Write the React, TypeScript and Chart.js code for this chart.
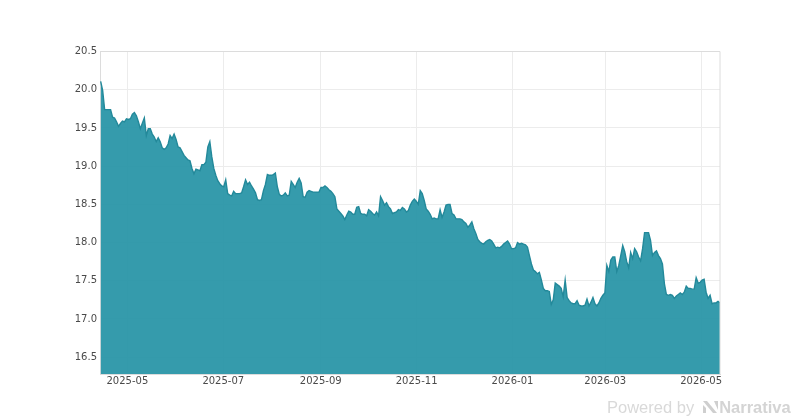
import { useEffect, useRef } from "react"
import { Chart, registerables } from "chart.js"

Chart.register(...registerables)

const firstDay = Date.UTC(2025, 3, 14)
const lastDay = Date.UTC(2026, 4, 13)

// prices, evenly spaced between firstDay and lastDay
const prices = [
  20.11, 19.99, 19.74, 19.74, 19.74, 19.74, 19.64, 19.63, 19.58, 19.52, 19.56, 19.59, 19.58, 19.62, 19.61, 19.62,
  19.68, 19.7, 19.66, 19.58, 19.49, 19.56, 19.63, 19.4, 19.49, 19.49, 19.42, 19.38, 19.32, 19.37, 19.32, 19.24,
  19.22, 19.24, 19.29, 19.4, 19.36, 19.42, 19.35, 19.25, 19.24, 19.19, 19.14, 19.11, 19.08, 19.07, 18.97, 18.9,
  18.96, 18.95, 18.94, 19.02, 19.02, 19.05, 19.25, 19.32, 19.12, 18.97, 18.88, 18.81, 18.77, 18.74, 18.73, 18.82,
  18.64, 18.62, 18.61, 18.67, 18.64, 18.64, 18.64, 18.65, 18.73, 18.82, 18.76, 18.79, 18.74, 18.7, 18.65, 18.56,
  18.55, 18.56, 18.68, 18.76, 18.89, 18.88, 18.88, 18.89, 18.91, 18.73, 18.63, 18.61, 18.62, 18.65, 18.61, 18.62,
  18.8, 18.76, 18.72, 18.79, 18.84, 18.78, 18.6, 18.59, 18.66, 18.68,
  18.67, 18.66, 18.66, 18.66, 18.66, 18.72, 18.72, 18.74, 18.72, 18.69, 18.67, 18.64, 18.6, 18.44, 18.41, 18.38,
  18.35, 18.3, 18.36, 18.41, 18.4, 18.37, 18.37, 18.46, 18.47, 18.38, 18.37, 18.37, 18.35, 18.43, 18.41, 18.38,
  18.36, 18.4, 18.35, 18.6, 18.55, 18.49, 18.52, 18.47, 18.44, 18.38, 18.39, 18.4, 18.43, 18.42, 18.46, 18.44,
  18.4, 18.42, 18.49, 18.54, 18.57, 18.54, 18.5, 18.68, 18.64, 18.55, 18.44, 18.41, 18.37, 18.31, 18.32, 18.31,
  18.31, 18.43, 18.33, 18.4, 18.49, 18.5, 18.5, 18.38, 18.36, 18.31, 18.31, 18.31, 18.3, 18.27, 18.25, 18.2,
  18.23, 18.27, 18.18, 18.12, 18.04, 18.01, 17.99, 17.98, 18.01, 18.03, 18.04, 18.02, 17.98, 17.93, 17.94, 17.93,
  17.95, 17.98, 18.0, 18.02, 17.98, 17.92, 17.92, 17.93, 18.0,
  17.98, 17.99, 17.98, 17.97, 17.94, 17.83, 17.72, 17.64, 17.62, 17.59, 17.61, 17.51, 17.4, 17.37, 17.37, 17.36,
  17.19, 17.25, 17.47, 17.45, 17.43, 17.4, 17.29, 17.51, 17.28, 17.24, 17.21, 17.2, 17.2, 17.24, 17.18, 17.17,
  17.17, 17.18, 17.26, 17.17, 17.22, 17.28, 17.2, 17.17, 17.21, 17.27, 17.31, 17.34, 17.7, 17.62, 17.77, 17.81,
  17.81, 17.62, 17.7, 17.83, 17.96, 17.88, 17.75, 17.67, 17.87, 17.79, 17.92, 17.88, 17.81, 17.76, 17.92, 18.13,
  18.13, 18.13, 18.03, 17.83, 17.87, 17.89, 17.83, 17.79, 17.72, 17.46, 17.32, 17.31, 17.32, 17.31, 17.27, 17.3,
  17.32, 17.34, 17.32, 17.35, 17.43, 17.4, 17.4, 17.39, 17.39, 17.54, 17.47, 17.48, 17.51, 17.52, 17.35, 17.27,
  17.31, 17.2, 17.21, 17.21, 17.23, 17.21,
]

const monthTicks = [
  Date.UTC(2025, 4, 1),
  Date.UTC(2025, 6, 1),
  Date.UTC(2025, 8, 1),
  Date.UTC(2025, 10, 1),
  Date.UTC(2026, 0, 1),
  Date.UTC(2026, 2, 1),
  Date.UTC(2026, 4, 1),
]

const yMin = 16.28
const yMax = 20.5

function monthLabel(ms: number) {
  const d = new Date(ms)
  return d.getUTCFullYear() + "-" + String(d.getUTCMonth() + 1).padStart(2, "0")
}

export default function App() {
  const chartRef = useRef<HTMLCanvasElement>(null)

  useEffect(() => {
    if (!chartRef.current) return
    document.body.style.margin = "0"

    const step = (lastDay - firstDay) / (prices.length - 1)
    const chart = new Chart(chartRef.current, {
      type: "line",
      data: {
        datasets: [
          {
            data: prices.map((y, i) => ({ x: firstDay + i * step, y })),
            borderColor: "#23899a",
            borderWidth: 1.4,
            backgroundColor: "rgba(36,146,165,0.92)",
            fill: "start",
            pointRadius: 0,
            tension: 0,
          },
        ],
      },
      options: {
        animation: false,
        responsive: false,
        layout: { padding: { top: 51.5, right: 80, left: 0, bottom: 0 } },
        plugins: { legend: { display: false }, tooltip: { enabled: false } },
        scales: {
          x: {
            type: "linear",
            min: Date.UTC(2025, 3, 13, 14),
            max: lastDay,
            afterBuildTicks: (axis) => {
              axis.ticks = monthTicks.map((value) => ({ value }))
            },
            afterFit: (axis) => {
              axis.height = 46
            },
            grid: { color: "#ececec", drawTicks: false },
            border: { color: "#dcdcdc", width: 1 },
            ticks: {
              autoSkip: false,
              maxRotation: 0,
              padding: 1,
              color: "#4a4a4a",
              font: { family: "DejaVu Sans", size: 10 },
              callback: (v) => monthLabel(Number(v)),
            },
          },
          y: {
            min: yMin,
            max: yMax,
            afterFit: (axis) => {
              axis.width = 100
            },
            grid: { color: "#ececec", drawTicks: false },
            border: { color: "#dcdcdc", width: 1 },
            ticks: {
              stepSize: 0.5,
              includeBounds: false,
              padding: 3,
              color: "#4a4a4a",
              font: { family: "DejaVu Sans", size: 10 },
              callback: (v) => Number(v).toFixed(1),
            },
          },
        },
      },
      plugins: [
        {
          id: "frame",
          afterDraw: (c) => {
            const { left, right, top, bottom } = c.chartArea
            const ctx = c.ctx
            ctx.save()
            ctx.strokeStyle = "#dcdcdc"
            ctx.lineWidth = 1
            ctx.beginPath()
            ctx.moveTo(left, top)
            ctx.lineTo(right, top)
            ctx.lineTo(right, bottom)
            ctx.stroke()
            ctx.restore()
          },
        },
      ],
    })

    return () => chart.destroy()
  }, [])

  return (
    <div style={{ position: "relative", width: 800, height: 420 }}>
      <canvas ref={chartRef} width={800} height={420} style={{ display: "block" }} />
      <div
        style={{
          position: "absolute",
          left: 607,
          top: 397,
          display: "flex",
          alignItems: "center",
          fontFamily: "Liberation Sans",
          fontSize: 16.5,
          lineHeight: "20px",
          color: "#d9d9d9",
          whiteSpace: "nowrap",
        }}
      >
        <span>Powered by</span>
        <svg width="16" height="12" viewBox="0 0 16 12" style={{ marginLeft: 9 }}>
          <polygon points="0,0 4,0 14,12 10,12" fill="#cfcfcf" />
          <polygon points="0,4 3,7 3,12 0,12" fill="#cfcfcf" />
          <polygon points="11,0 15,0 15,9" fill="#cfcfcf" />
        </svg>
        <span style={{ fontWeight: 700, color: "#d4d4d4" }}>Narrativa</span>
      </div>
    </div>
  )
}
